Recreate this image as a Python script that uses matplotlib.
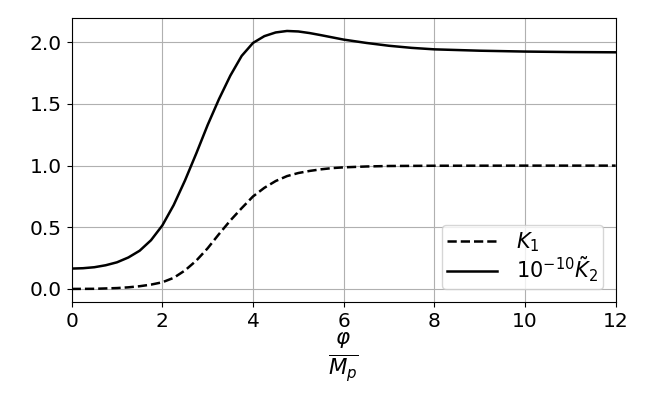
import numpy as np
import matplotlib.pyplot as plt

# values
x_k1 = [0, 0.5, 1.0, 1.25, 1.5, 1.75, 2.0, 2.25, 2.5, 2.75, 3.0, 3.25, 3.5, 3.75, 4.0,
        4.25, 4.5, 4.75, 5.0, 5.25, 5.5, 5.75, 6.0, 6.5, 7.0, 8.0, 10.0, 12.0]
k1 = [0.0, 0.001, 0.007, 0.013, 0.022, 0.035, 0.054, 0.09, 0.15, 0.23, 0.33, 0.445, 0.555, 0.655, 0.75,
      0.82, 0.875, 0.915, 0.94, 0.957, 0.97, 0.98, 0.986, 0.993, 0.997, 0.999, 1.0, 1.0]

x_k2 = [0, 0.25, 0.5, 0.75, 1.0, 1.25, 1.5, 1.75, 2.0, 2.25, 2.5, 2.75, 3.0, 3.25, 3.5, 3.75, 4.0,
        4.25, 4.5, 4.75, 5.0, 5.25, 5.5, 5.75, 6.0, 6.5, 7.0, 7.5, 8.0, 9.0, 10.0, 11.0, 12.0]
k2 = [0.165, 0.168, 0.176, 0.192, 0.216, 0.255, 0.31, 0.395, 0.515, 0.68, 0.88, 1.10, 1.33, 1.54, 1.73, 1.89, 1.995,
      2.05, 2.08, 2.092, 2.088, 2.075, 2.058, 2.04, 2.022, 1.995, 1.972, 1.955, 1.943, 1.932, 1.925, 1.921, 1.919]

plt.rcParams['font.size'] = 14.5
fig = plt.figure(figsize=(6.54, 3.93), dpi=100)
ax = fig.add_axes([0.1096, 0.232, 0.8318, 0.722])

ax.plot(x_k1, k1, 'k--', lw=1.8, label=r'$K_1$')
ax.plot(x_k2, k2, 'k-', lw=1.8, label=r'$10^{-10}\tilde{K}_2$')

ax.set_xlim(0, 12)
ax.set_yticks([0.0, 0.5, 1.0, 1.5, 2.0])
ax.grid(True)
ax.set_xlabel(r'$\frac{\varphi}{M_p}$', fontsize=22, labelpad=0)
ax.legend(loc='lower right', fontsize=15, handlelength=2.4, handletextpad=0.9,
          labelspacing=0.05, borderpad=0.25, borderaxespad=0.6)

fig.savefig('out.png', dpi=100)
